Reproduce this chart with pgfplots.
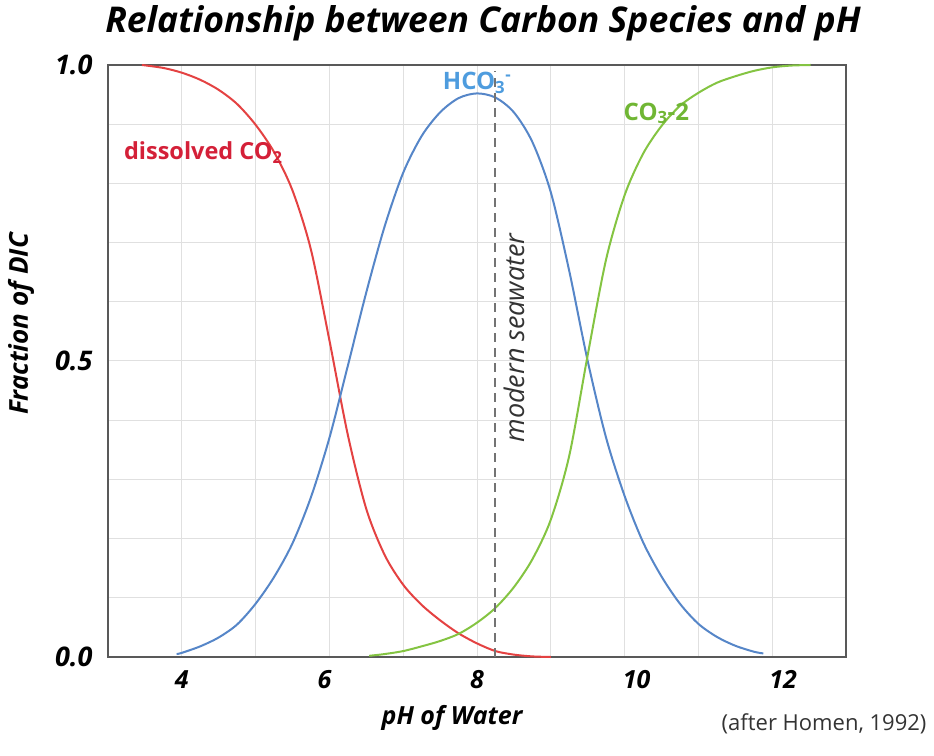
\documentclass[border=0pt]{standalone}
\usepackage{fontspec}
\setmainfont{Open Sans}
\usepackage{pgfplots}
\pgfplotsset{compat=1.18}
\definecolor{redc}{RGB}{228,66,66}
\definecolor{redt}{RGB}{212,32,56}
\definecolor{bluec}{RGB}{86,134,200}
\definecolor{bluet}{RGB}{78,156,222}
\definecolor{greenc}{RGB}{132,196,66}
\definecolor{greent}{RGB}{112,182,52}
\begin{document}
\begin{tikzpicture}[x=1pt,y=1pt]
\path[use as bounding box] (0,0) rectangle (934,755);
\begin{axis}[
  at={(108pt,98pt)}, anchor=south west,
  scale only axis, width=738pt, height=592pt,
  xmin=3, xmax=13, ymin=0, ymax=1,
  xtick={4,6,8,10,12},
  xticklabels={4,6\hspace*{10pt},8,\hspace*{24pt}10,\hspace*{22pt}\raisebox{8pt}{12}},
  minor xtick={5,7,9,11},
  ytick={0,0.5,1}, yticklabels={0.0,0.5,1.0},
  minor ytick={0.1,0.2,0.3,0.4,0.6,0.7,0.8,0.9},
  grid=both,
  grid style={draw=black!12, line width=1pt},
  minor grid style={draw=black!12, line width=1pt},
  major grid style={draw=black!12, line width=1pt},
  major tick length=0pt, minor tick length=0pt,
  axis line style={draw=black!65, line width=2.5pt},
  xticklabel style={font=\fontsize{25}{25}\selectfont\bfseries\itshape, yshift=-10pt},
  yticklabel style={font=\fontsize{27}{27}\selectfont\bfseries\itshape, xshift=-12pt},
  clip=false,
]
\addplot[redc, line width=2pt, smooth] coordinates {
(3.46,1.000) (3.75,0.995) (4.00,0.987) (4.25,0.975) (4.50,0.958) (4.75,0.934)
(5.00,0.899) (5.25,0.853) (5.50,0.788) (5.75,0.688) (6.00,0.535) (6.25,0.375)
(6.50,0.250) (6.75,0.172) (7.00,0.122) (7.25,0.088) (7.50,0.062) (7.75,0.040)
(8.00,0.023) (8.25,0.010) (8.50,0.004) (8.75,0.001) (9.00,0.000)
};
\addplot[bluec, line width=2pt, smooth] coordinates {
(3.93,0.005) (4.00,0.007) (4.25,0.018) (4.50,0.033) (4.75,0.055) (5.00,0.090)
(5.25,0.135) (5.50,0.192) (5.75,0.270) (6.00,0.370) (6.25,0.492) (6.50,0.616)
(6.75,0.728) (7.00,0.818) (7.25,0.880) (7.50,0.920) (7.75,0.944) (8.00,0.952)
(8.25,0.945) (8.50,0.920) (8.75,0.870) (9.00,0.785) (9.25,0.652) (9.50,0.500)
(9.75,0.370) (10.00,0.272) (10.25,0.194) (10.50,0.136) (10.75,0.090) (11.00,0.056)
(11.25,0.034) (11.50,0.019) (11.75,0.009) (11.88,0.006)
};
\addplot[greenc, line width=2pt, smooth] coordinates {
(6.54,0.002) (6.75,0.005) (7.00,0.010) (7.25,0.018) (7.50,0.027) (7.75,0.039)
(8.00,0.058) (8.25,0.083) (8.50,0.118) (8.75,0.165) (9.00,0.232) (9.25,0.340)
(9.50,0.510) (9.75,0.672) (10.00,0.780) (10.25,0.850) (10.50,0.897) (10.75,0.931)
(11.00,0.953) (11.25,0.970) (11.50,0.981) (11.75,0.990) (12.00,0.996) (12.25,0.999)
(12.52,1.000)
};
\addplot[draw=black!55, line width=2pt, dash pattern=on 9pt off 6pt] coordinates {(8.25,0) (8.25,0.99)};
\node[anchor=base west, text=redt, font=\fontsize{23.5}{23.5}\selectfont\bfseries] at (axis cs:3.17,0.84) {dissolved CO\textsubscript{2}};
\node[anchor=base west, text=bluet, font=\fontsize{24}{24}\selectfont\bfseries] at (axis cs:7.49,0.958) {HCO\textsubscript{3}\textsuperscript{-}};
\node[anchor=base west, text=greent, font=\fontsize{24}{24}\selectfont\bfseries] at (axis cs:9.94,0.907) {CO\textsubscript{3}-2};
\node[rotate=90, text=black!80, font=\fontsize{27}{27}\selectfont\itshape] at (axis cs:8.50,0.539) {modern seawater};
\end{axis}
\node[font=\fontsize{35.5}{35.5}\selectfont\bfseries\itshape] at (483,732) {Relationship between Carbon Species and pH};
\node[rotate=90, font=\fontsize{26}{26}\selectfont\bfseries\itshape] at (21,431) {Fraction of DIC};
\node[font=\fontsize{25}{25}\selectfont\bfseries\itshape] at (452,37) {pH of Water};
\node[anchor=east, text=black!80, font=\fontsize{22}{22}\selectfont] at (930,31) {(after Homen, 1992)};
\end{tikzpicture}
\end{document}
